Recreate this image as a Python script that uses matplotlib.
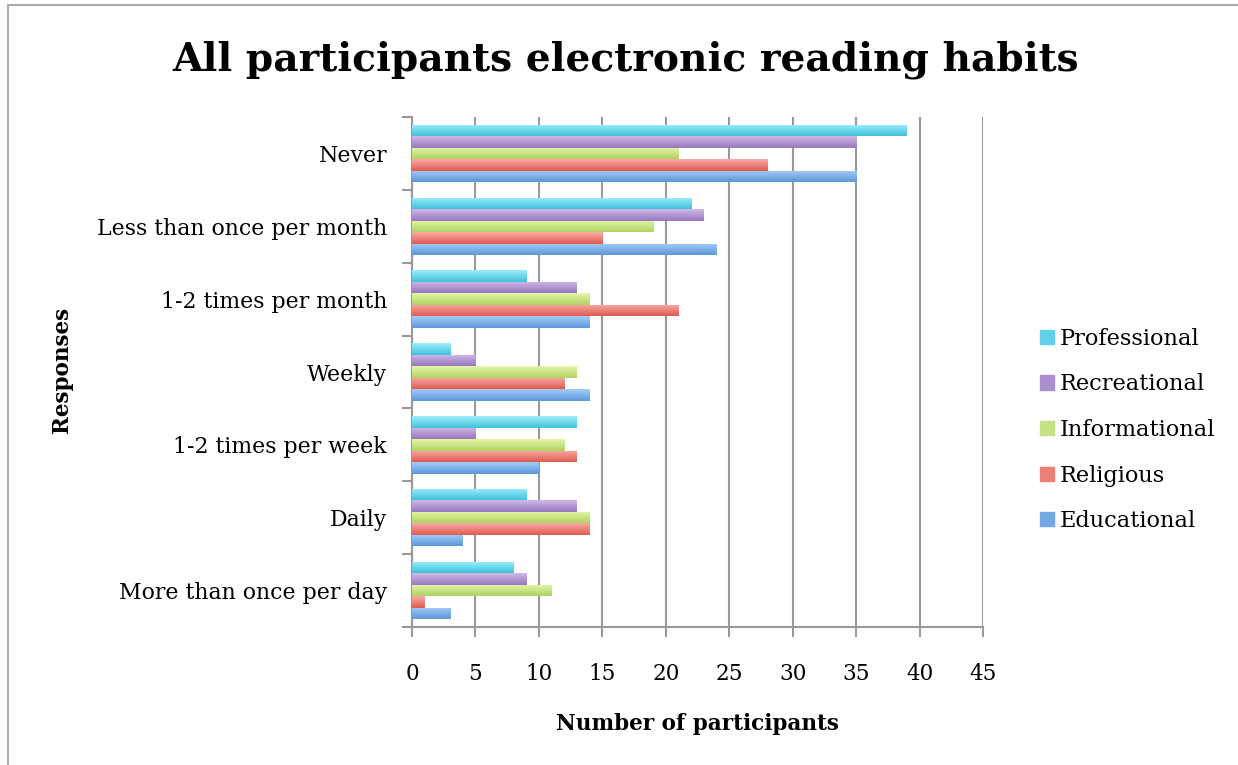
import matplotlib.pyplot as plt
import numpy as np
from matplotlib.patches import Rectangle, Patch
from matplotlib.colors import to_rgb

categories = ["Never", "Less than once per month", "1-2 times per month", "Weekly",
              "1-2 times per week", "Daily", "More than once per day"]
series = ["Professional", "Recreational", "Informational", "Religious", "Educational"]
professional = [39, 22, 9, 3, 13, 9, 8]
recreational = [35, 23, 13, 5, 5, 13, 9]
informational = [21, 19, 14, 13, 12, 14, 11]
religious = [28, 15, 21, 12, 13, 14, 1]
educational = [35, 24, 14, 14, 10, 4, 3]
values = [professional, recreational, informational, religious, educational]
colors = ["#62D0E8", "#A98FCB", "#C6E084", "#EC7F76", "#74A8E4"]
tops = ["#9AEFFC", "#D0B9E8", "#E4F6A8", "#FAAAA3", "#A6CBF8"]
bottoms = ["#43C0DB", "#9878BE", "#B0D262", "#DE5C52", "#5B98DB"]

plt.rcParams['font.family'] = ['DejaVu Serif']

fig = plt.figure(figsize=(12.38, 7.65), dpi=100)
ax = fig.add_axes([412 / 1238, 1 - 627 / 765, (983 - 412) / 1238, (627 - 117) / 765])

y = np.arange(len(categories))
h = 0.158
for j, (name, vals, c) in enumerate(zip(series, values, colors)):
    bars = ax.barh(y + (j - 2) * h, vals, height=h, color=c, label=name, zorder=3)
    grad = np.linspace(0, 1, 32)[:, None, None]
    img = (1 - grad) * np.array(to_rgb(tops[j])) + grad * np.array(to_rgb(bottoms[j]))
    for b in bars:
        x0, y0 = b.get_x(), b.get_y()
        w, hh = b.get_width(), b.get_height()
        im = ax.imshow(img, extent=(x0, x0 + w, y0 + hh, y0), aspect='auto',
                       origin='upper', zorder=4, interpolation='bilinear')
        im.set_clip_path(b)

ax.set_xlim(0, 45)
ax.set_ylim(len(categories) - 0.5, -0.5)
ax.set_aspect('auto')
ax.set_xticks(np.arange(0, 46, 5))
ax.set_yticks(y)
ax.set_yticklabels(categories)
ax.set_yticks(np.arange(-0.5, len(categories), 1), minor=True)
ax.tick_params(axis='y', which='major', length=0, pad=18, labelsize=15.8)
ax.tick_params(axis='y', which='minor', length=7, width=1.5, color='#999999')
ax.tick_params(axis='x', length=7, width=1.5, color='#999999', labelsize=15.5, pad=19)
ax.grid(axis='x', color='#999999', linewidth=1.5, zorder=0)
for s in ['top', 'right']:
    ax.spines[s].set_visible(False)
for s in ['left', 'bottom']:
    ax.spines[s].set_color('#999999')
    ax.spines[s].set_linewidth(1.5)

ax.set_xlabel("Number of participants", fontsize=15.5, fontweight='bold', labelpad=20)
fig.text(62 / 1238, 1 - 370 / 765, "Responses", rotation=90, fontsize=15.5,
         fontweight='bold', ha='center', va='center')
fig.text(626 / 1238, 1 - 60 / 765, "All participants electronic reading habits",
         fontsize=28.2, fontweight='bold', ha='center', va='center')

handles = [Patch(color=c, label=n) for n, c in zip(series, colors)]
fig.legend(handles=handles, loc='center left', bbox_to_anchor=(1020 / 1238, 1 - 430 / 765),
           frameon=False, fontsize=16.2, handlelength=0.6, handleheight=0.6,
           handletextpad=0.25, labelspacing=1.05)

fig.add_artist(Rectangle((8 / 1238, -0.01), 1.2, 1 - 5 / 765 + 0.01, transform=fig.transFigure,
                         fill=False, edgecolor='#AAAAAA', linewidth=1.5))

fig.savefig("out.png", dpi=100)
